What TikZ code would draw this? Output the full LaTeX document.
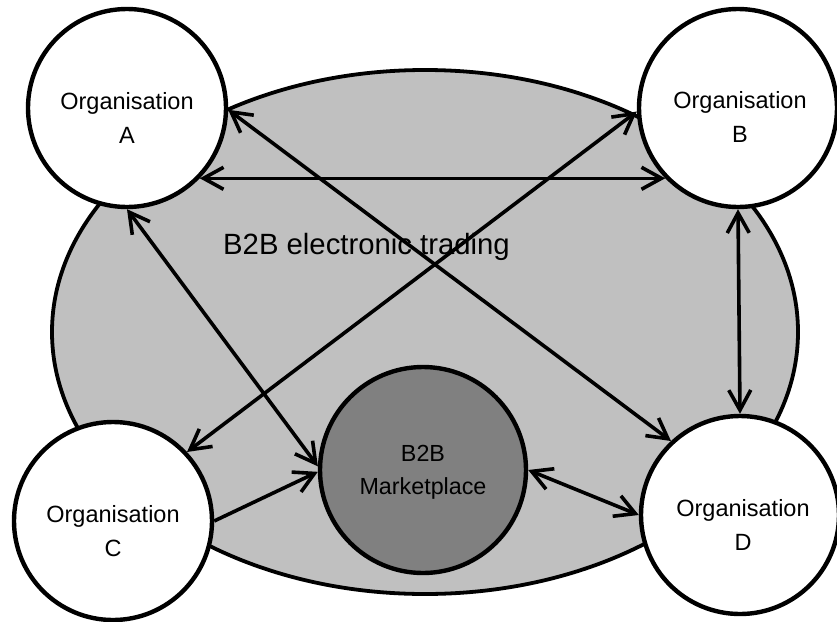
\documentclass[tikz,border=0pt]{standalone}
\usepackage{fontspec}
\setmainfont{Liberation Sans}
\usetikzlibrary{arrows.meta,shapes.geometric}
\definecolor{tradegray}{HTML}{C0C0C0}
\definecolor{marketgray}{HTML}{808080}
\begin{document}
\begin{tikzpicture}[x=1pt,y=-1pt,
  org/.style={circle, draw, line width=4.4pt, fill=white, minimum size=198pt, inner sep=0pt},
  market/.style={circle, draw, line width=4.4pt, fill=marketgray, minimum size=206pt, inner sep=0pt},
  orgtext/.style={align=center, inner sep=0pt, font=\fontsize{23.5}{34}\selectfont},
  markettext/.style={align=center, inner sep=0pt, font=\fontsize{23.3}{33}\selectfont},
  barb/.tip={Straight Barb[length=20pt,width=22pt]},
  link/.style={line width=3.6pt, barb-barb},
  oneway/.style={line width=3.6pt, -barb}]
  \useasboundingbox (0,0) rectangle (837,621);
  \fill[white] (0,0) rectangle (837,621);

  % trading area
  \node[ellipse, draw, line width=3.8pt, fill=tradegray, minimum width=746pt, minimum height=524pt, inner sep=0pt] (trade) at (425,332) {};
  \node[anchor=base west, inner sep=0pt, font=\fontsize{29.3}{34}\selectfont] (tradelabel) at (223,254) {B2B electronic trading};

  % organisations and marketplace
  \node[org] (A) at (127,108) {};
  \node[org] (B) at (738,108) {};
  \node[org] (C) at (113,521) {};
  \node[org] (D) at (740,515) {};
  \node[market] (M) at (423,470) {};

  \node[orgtext] (Atext) at ([yshift=-10pt]A.center) {Organisation\\A};
  \node[orgtext] (Btext) at ([yshift=-9pt,xshift=2pt]B.center) {Organisation\\B};
  \node[orgtext] (Ctext) at ([yshift=-10pt]C.center) {Organisation\\C};
  \node[orgtext] (Dtext) at ([yshift=-10pt,xshift=3pt]D.center) {Organisation\\D};
  \node[markettext] (Mtext) at ([yshift=-2pt]M.center) {B2B\\Marketplace};

  % trading links
  \draw[link] (A.-44) -- (B.224);
  \draw[link] (A.-1) -- (D.133);
  \draw[link] (B.182) -- (C.43);
  \draw[link] (B.south) -- (D.north);
  \draw[link] (A.south) -- (M.178);
  \draw[oneway] (C.east) -- (M.181);
  \draw[link] (M.east) -- (D.west);
\end{tikzpicture}
\end{document}
